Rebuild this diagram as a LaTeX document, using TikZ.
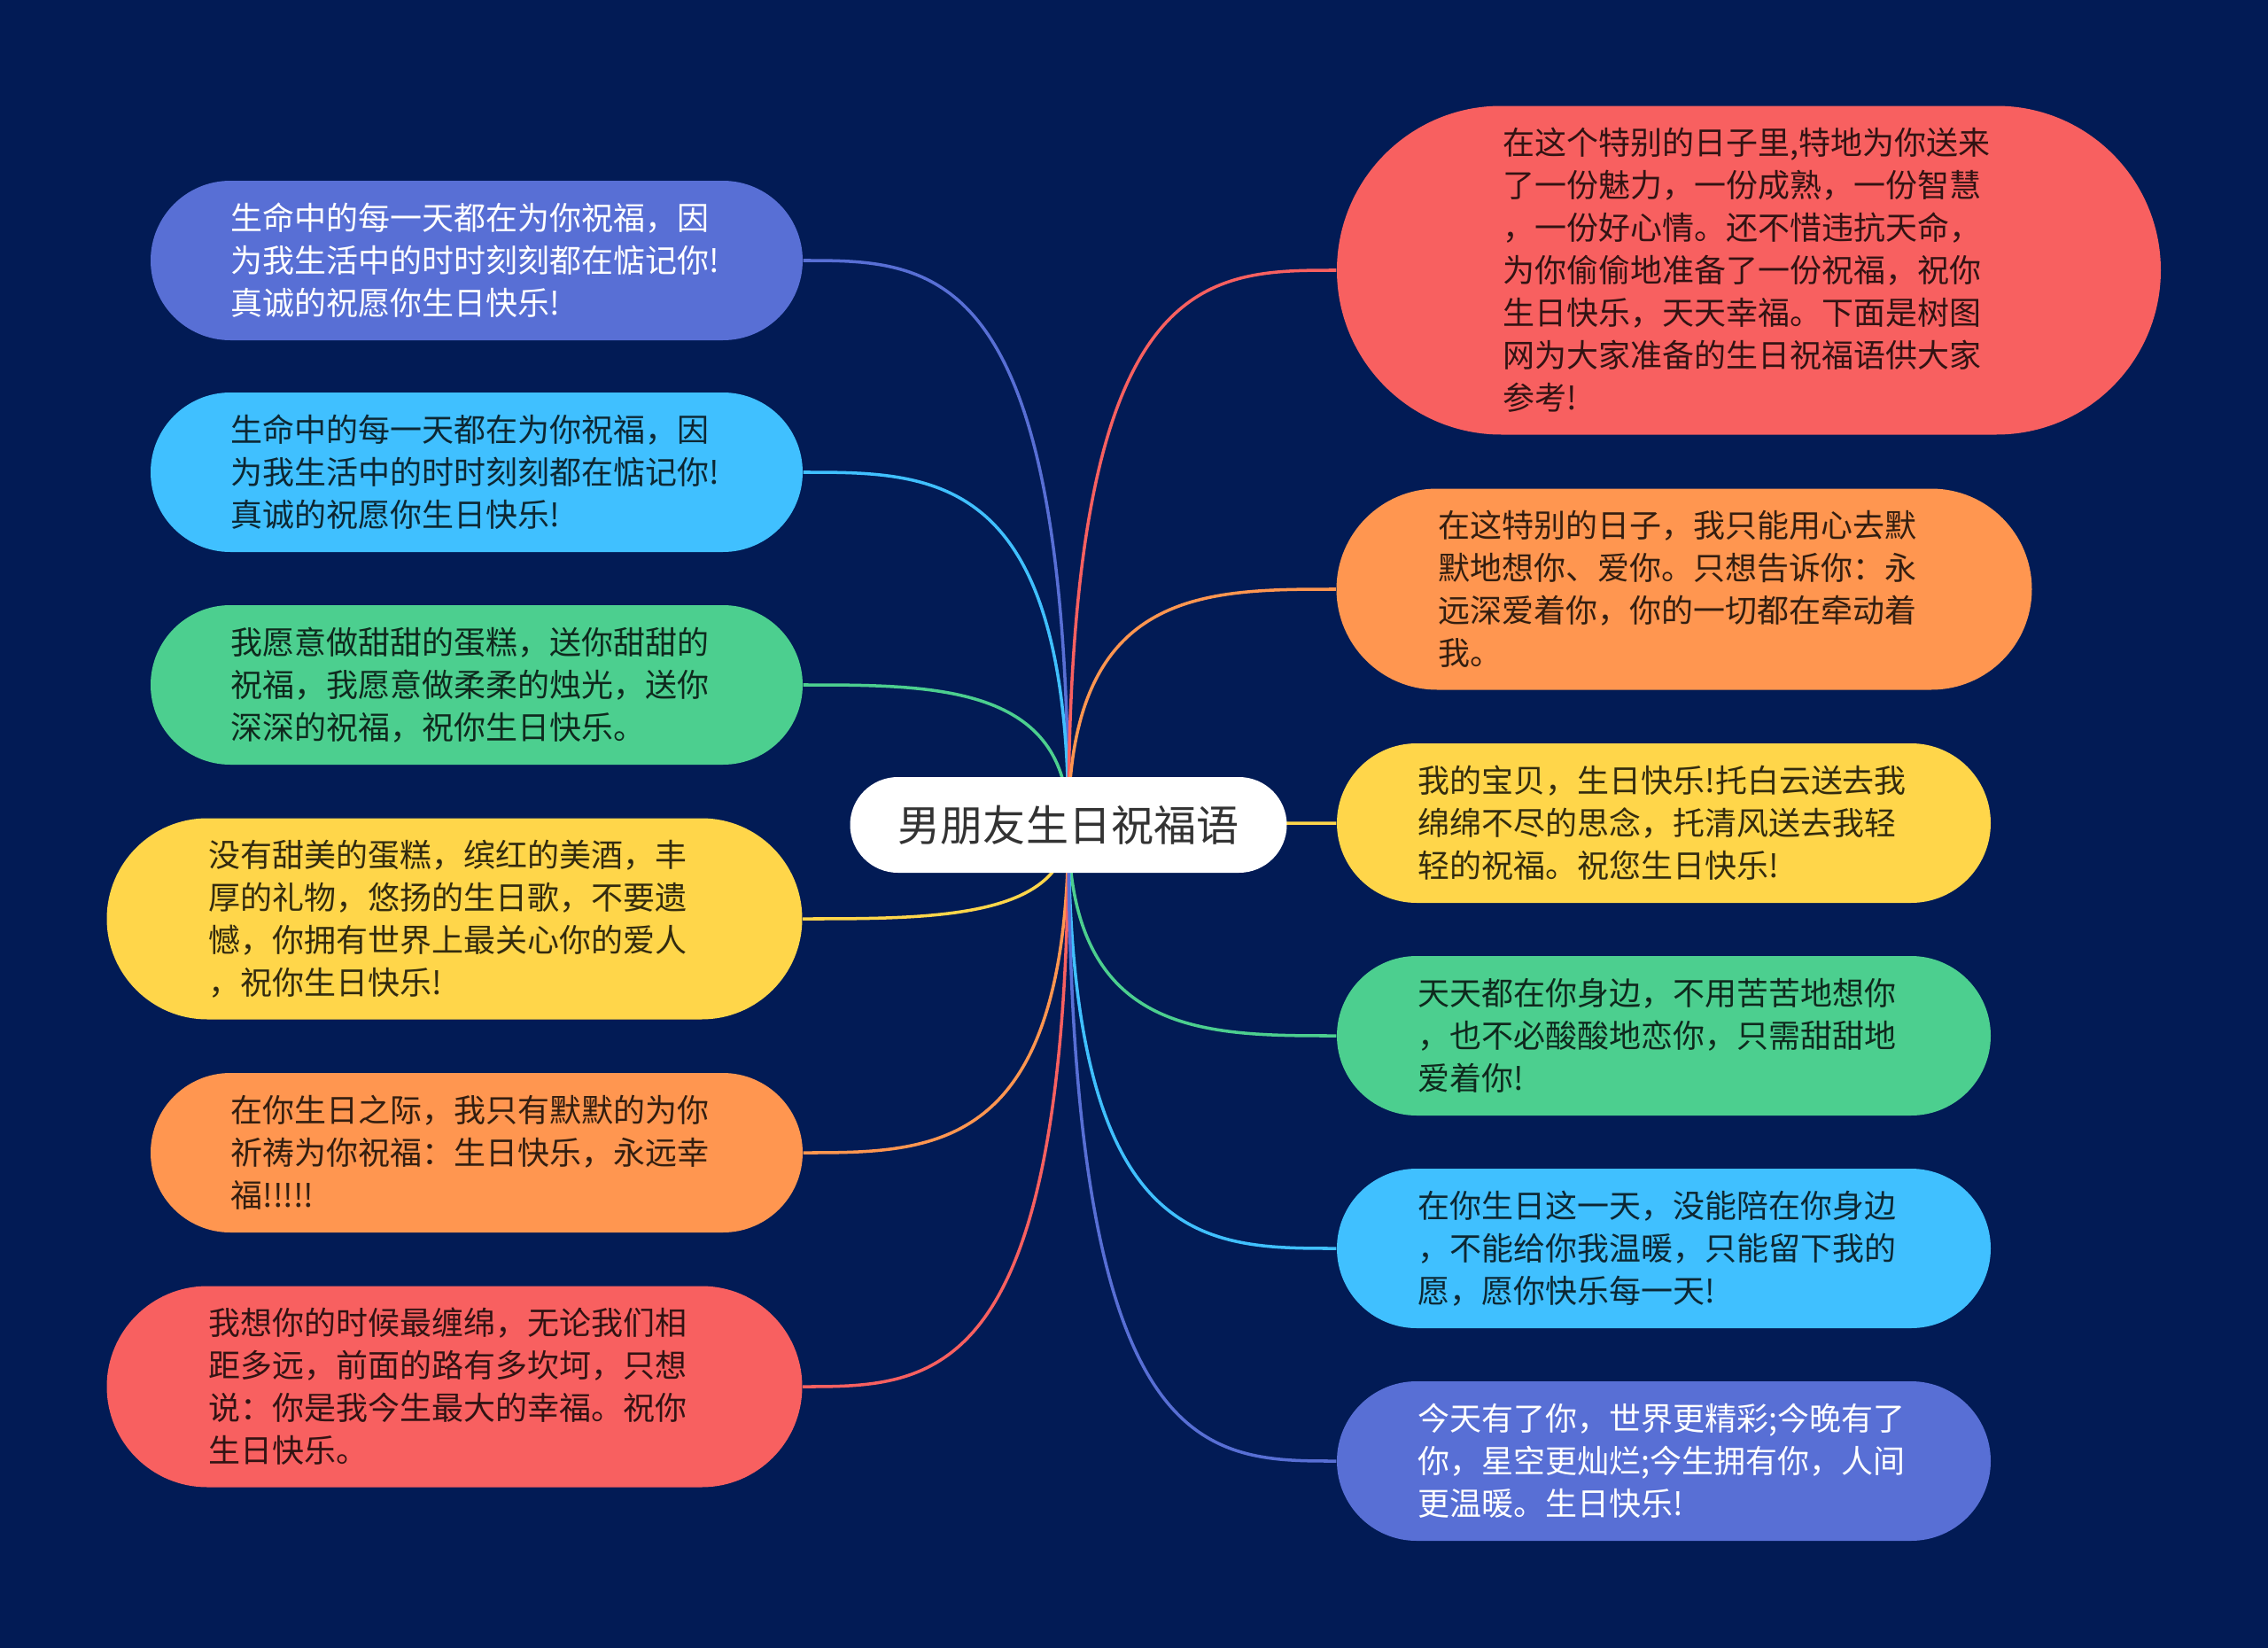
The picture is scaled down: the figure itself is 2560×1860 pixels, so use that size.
\documentclass[tikz,border=0pt]{standalone}
\usepackage{fontspec}
\setmainfont{Noto Sans CJK SC}
\usetikzlibrary{calc}
\definecolor{bgc}{RGB}{2,27,85}
\definecolor{cPurple}{RGB}{88,111,213}
\definecolor{cSky}{RGB}{64,192,255}
\definecolor{cGreen}{RGB}{76,207,143}
\definecolor{cYellow}{RGB}{255,214,74}
\definecolor{cOrange}{RGB}{255,150,80}
\definecolor{cRed}{RGB}{248,96,96}
\definecolor{cText}{RGB}{51,51,51}
\pgfdeclarelayer{bglayer}
\pgfdeclarelayer{edgelayer}
\pgfsetlayers{bglayer,edgelayer,main}
\newcommand\branchto[3]{\draw[conn,draw=#1] (c.center) .. controls (c.center |- #2.#3) and ($(c.center |- #2.#3)!0.5!(#2.#3)$) .. (#2.#3);}
\begin{document}
\begin{tikzpicture}[x=0.1mm,y=-0.1mm,
  leaf/.style={shape=rectangle, inner sep=0pt, align=left, text width=55.5mm,
    font=\fontsize{10.24pt}{13.66pt}\selectfont},
  small/.style={minimum width=73.6mm, minimum height=18mm, rounded corners=9mm},
  mid/.style={minimum width=78.5mm, minimum height=22.7mm, rounded corners=11.35mm},
  conn/.style={line width=1pt}]
\begin{pgfonlayer}{bglayer}
\fill[bgc] (0,0) rectangle (2560,1860);
\end{pgfonlayer}
\useasboundingbox (0,0) rectangle (2560,1860);

% central node
\node[fill=white, text=cText, minimum width=49.3mm, minimum height=10.8mm, rounded corners=5.4mm, inner sep=0pt,
  font=\fontsize{13.66pt}{16pt}\selectfont] (c) at (1206,931) {男朋友生日祝福语};

% left nodes
\node[leaf, small, fill=cPurple, text=white] (l1) at (538,294) {生命中的每一天都在为你祝福，因\\为我生活中的时时刻刻都在惦记你!\\真诚的祝愿你生日快乐!};
\node[leaf, small, fill=cSky, text=cSky!20!black] (l2) at (538,533) {生命中的每一天都在为你祝福，因\\为我生活中的时时刻刻都在惦记你!\\真诚的祝愿你生日快乐!};
\node[leaf, small, fill=cGreen, text=cGreen!20!black] (l3) at (538,773) {我愿意做甜甜的蛋糕，送你甜甜的\\祝福，我愿意做柔柔的烛光，送你\\深深的祝福，祝你生日快乐。};
\node[leaf, mid, fill=cYellow, text=cYellow!20!black] (l4) at (513,1037) {没有甜美的蛋糕，缤红的美酒，丰\\厚的礼物，悠扬的生日歌，不要遗\\憾，你拥有世界上最关心你的爱人\\，祝你生日快乐!};
\node[leaf, small, fill=cOrange, text=cOrange!20!black] (l5) at (538,1301) {在你生日之际，我只有默默的为你\\祈祷为你祝福：生日快乐，永远幸\\福!!!!!};
\node[leaf, mid, fill=cRed, text=cRed!20!black] (l6) at (513,1565) {我想你的时候最缠绵，无论我们相\\距多远，前面的路有多坎坷，只想\\说：你是我今生最大的幸福。祝你\\生日快乐。};

% right nodes
\node[leaf, fill=cRed, text=cRed!20!black, minimum width=93mm, minimum height=37.1mm, rounded corners=18.55mm] (r1) at (1974,305) {在这个特别的日子里,特地为你送来\\了一份魅力，一份成熟，一份智慧\\，一份好心情。还不惜违抗天命，\\为你偷偷地准备了一份祝福，祝你\\生日快乐，天天幸福。下面是树图\\网为大家准备的生日祝福语供大家\\参考!};
\node[leaf, mid, fill=cOrange, text=cOrange!20!black] (r2) at (1901,665) {在这特别的日子，我只能用心去默\\默地想你、爱你。只想告诉你：永\\远深爱着你，你的一切都在牵动着\\我。};
\node[leaf, small, minimum width=73.8mm, fill=cYellow, text=cYellow!20!black] (r3) at (1878,929) {我的宝贝，生日快乐!托白云送去我\\绵绵不尽的思念，托清风送去我轻\\轻的祝福。祝您生日快乐!};
\node[leaf, small, minimum width=73.8mm, fill=cGreen, text=cGreen!20!black] (r4) at (1878,1169) {天天都在你身边，不用苦苦地想你\\，也不必酸酸地恋你，只需甜甜地\\爱着你!};
\node[leaf, small, minimum width=73.8mm, fill=cSky, text=cSky!20!black] (r5) at (1878,1409) {在你生日这一天，没能陪在你身边\\，不能给你我温暖，只能留下我的\\愿，愿你快乐每一天!};
\node[leaf, small, minimum width=73.8mm, fill=cPurple, text=white] (r6) at (1878,1649) {今天有了你，世界更精彩;今晚有了\\你，星空更灿烂;今生拥有你，人间\\更温暖。生日快乐!};

% connectors
\begin{pgfonlayer}{edgelayer}
\branchto{cPurple}{l1}{east}
\branchto{cSky}{l2}{east}
\branchto{cGreen}{l3}{east}
\branchto{cYellow}{l4}{east}
\branchto{cOrange}{l5}{east}
\branchto{cRed}{l6}{east}
\branchto{cRed}{r1}{west}
\branchto{cOrange}{r2}{west}
\branchto{cYellow}{r3}{west}
\branchto{cGreen}{r4}{west}
\branchto{cSky}{r5}{west}
\branchto{cPurple}{r6}{west}
\end{pgfonlayer}
\end{tikzpicture}
\end{document}
